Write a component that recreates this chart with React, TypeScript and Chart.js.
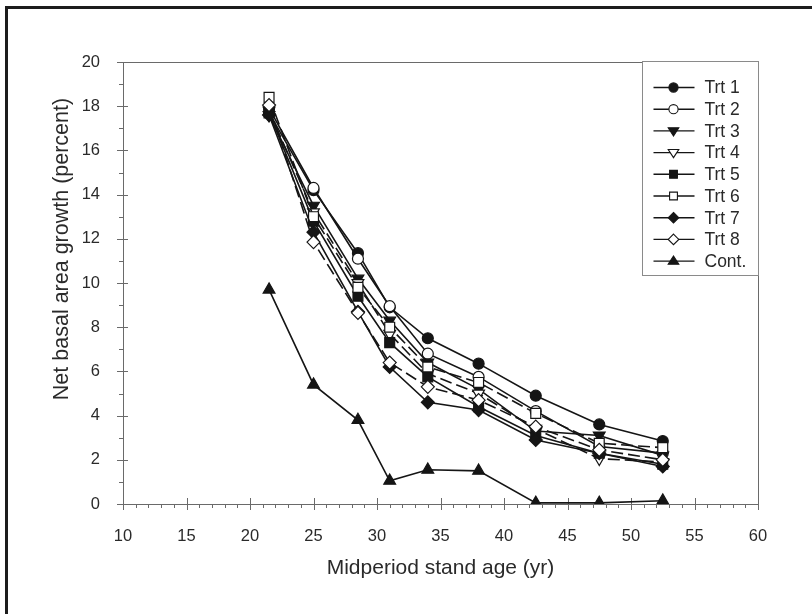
import React, { useEffect, useRef } from 'react';
import { Chart, registerables } from 'chart.js';

Chart.register(...registerables);

// ---- Data ----
const ages = [21.5, 25, 28.5, 31, 34, 38, 42.5, 47.5, 52.5];
const trt1 = [17.7, 14.2, 11.35, 8.9, 7.5, 6.35, 4.9, 3.6, 2.85];
const trt2 = [17.9, 14.3, 11.1, 8.95, 6.8, 5.75, 4.2, 2.6, 2.3];
const trt3 = [17.6, 13.5, 10.2, 8.3, 6.4, 5.2, 3.3, 3.1, 2.2];
const trt4 = [17.8, 13.2, 10.0, 7.7, 5.9, 5.0, 3.4, 2.05, 1.9];
const trt5 = [17.7, 12.8, 9.4, 7.3, 5.75, 4.4, 3.1, 2.3, 1.8];
const trt6 = [18.4, 13.0, 9.8, 8.0, 6.2, 5.5, 4.1, 2.75, 2.55];
const trt7 = [17.6, 12.3, 8.7, 6.2, 4.6, 4.25, 2.9, 2.3, 1.7];
const trt8 = [18.05, 11.85, 8.65, 6.4, 5.3, 4.7, 3.5, 2.45, 2.0];
const cont = [9.7, 5.4, 3.8, 1.05, 1.55, 1.5, 0.05, 0.05, 0.15];

const seriesNames = ['Trt 1', 'Trt 2', 'Trt 3', 'Trt 4', 'Trt 5', 'Trt 6', 'Trt 7', 'Trt 8', 'Cont.'];
const seriesValues = [trt1, trt2, trt3, trt4, trt5, trt6, trt7, trt8, cont];

const xMin = 10, xMax = 60, xStep = 5, xMinorStep = 1;
const yMin = 0, yMax = 20, yStep = 2, yMinorStep = 1;

const xTitle = 'Midperiod stand age (yr)';
const yTitle = 'Net basal area growth (percent)';

// ---- Styles ----
type MarkerKind = 'circle' | 'triDown' | 'triUp' | 'square' | 'diamond';
const markers: { kind: MarkerKind; filled: boolean; dash: number[] }[] = [
  { kind: 'circle', filled: true, dash: [] },
  { kind: 'circle', filled: false, dash: [] },
  { kind: 'triDown', filled: true, dash: [] },
  { kind: 'triDown', filled: false, dash: [12, 5] },
  { kind: 'square', filled: true, dash: [] },
  { kind: 'square', filled: false, dash: [12, 5] },
  { kind: 'diamond', filled: true, dash: [] },
  { kind: 'diamond', filled: false, dash: [12, 5] },
  { kind: 'triUp', filled: true, dash: [] },
];

const INK = '#151515';
const AXIS = '#6a6a6a';
const TEXT = '#2a2a2a';
const FONT = "'Liberation Sans', Arial, sans-serif";

function chartStyle(kind: MarkerKind) {
  switch (kind) {
    case 'circle': return { pointStyle: 'circle', radius: 5.5, rotation: 0 };
    case 'triDown': return { pointStyle: 'triangle', radius: 6.8, rotation: 180 };
    case 'triUp': return { pointStyle: 'triangle', radius: 6.8, rotation: 0 };
    case 'square': return { pointStyle: 'rect', radius: 7, rotation: 0 };
    case 'diamond': return { pointStyle: 'rectRot', radius: 6.5, rotation: 0 };
  }
}

function drawMarker(ctx: CanvasRenderingContext2D, kind: MarkerKind, x: number, y: number, r: number, filled: boolean) {
  ctx.save();
  ctx.beginPath();
  if (kind === 'circle') {
    ctx.arc(x, y, r, 0, Math.PI * 2);
  } else if (kind === 'square') {
    const s = r * 0.85;
    ctx.rect(x - s, y - s, 2 * s, 2 * s);
  } else if (kind === 'diamond') {
    const d = r * 1.15;
    ctx.moveTo(x, y - d); ctx.lineTo(x + d, y); ctx.lineTo(x, y + d); ctx.lineTo(x - d, y); ctx.closePath();
  } else {
    const d = r * 1.15;
    const s = kind === 'triDown' ? 1 : -1;
    ctx.moveTo(x - d, y - s * d * 0.6);
    ctx.lineTo(x + d, y - s * d * 0.6);
    ctx.lineTo(x, y + s * d * 0.95);
    ctx.closePath();
  }
  ctx.fillStyle = filled ? INK : '#ffffff';
  ctx.fill();
  ctx.lineWidth = 1.1;
  ctx.strokeStyle = INK;
  ctx.stroke();
  ctx.restore();
}

const framePlugin = {
  id: 'frameTicks',
  beforeDraw(chart: any) {
    const ctx = chart.ctx as CanvasRenderingContext2D;
    ctx.save();
    // outer figure border (left & top)
    ctx.fillStyle = '#1c1c1c';
    ctx.fillRect(5, 6, 3, chart.height);
    ctx.fillRect(5, 6, chart.width, 3);
    ctx.restore();
  },
  beforeDatasetsDraw(chart: any) {
    const ctx = chart.ctx as CanvasRenderingContext2D;
    const { left, right, top, bottom } = chart.chartArea;
    const xs = chart.scales.x, ys = chart.scales.y;
    ctx.save();
    ctx.strokeStyle = AXIS;
    ctx.lineWidth = 1;
    ctx.strokeRect(Math.round(left) + 0.5, Math.round(top) + 0.5, Math.round(right - left), Math.round(bottom - top));
    ctx.beginPath();
    for (let v = xMin; v <= xMax + 1e-9; v += xMinorStep) {
      const px = Math.round(xs.getPixelForValue(v)) + 0.5;
      const major = Math.abs((v - xMin) % xStep) < 1e-9;
      if (major) { ctx.moveTo(px, bottom - 6); ctx.lineTo(px, bottom + 6); }
      else { ctx.moveTo(px, bottom); ctx.lineTo(px, bottom + 4); }
    }
    for (let v = yMin; v <= yMax + 1e-9; v += yMinorStep) {
      const py = Math.round(ys.getPixelForValue(v)) + 0.5;
      const major = Math.abs((v - yMin) % yStep) < 1e-9;
      if (major) { ctx.moveTo(left - 6, py); ctx.lineTo(left + 5, py); }
      else { ctx.moveTo(left - 4, py); ctx.lineTo(left, py); }
    }
    ctx.stroke();

    // y-axis title (sits a little above the plot's vertical centre, as in the original)
    ctx.save();
    ctx.translate(62, (top + bottom) / 2 - 34);
    ctx.rotate(-Math.PI / 2);
    ctx.font = `21.5px ${FONT}`;
    ctx.fillStyle = TEXT;
    ctx.textAlign = 'center';
    ctx.textBaseline = 'middle';
    ctx.fillText(yTitle, 0, 0);
    ctx.restore();
    ctx.restore();
  },
  afterDraw(chart: any) {
    const ctx = chart.ctx as CanvasRenderingContext2D;
    const { right, top } = chart.chartArea;
    const boxW = 116, boxH = 214;
    const bx = Math.round(right - boxW) + 0.5, by = Math.round(top) - 0.5;
    ctx.save();
    ctx.fillStyle = '#ffffff';
    ctx.fillRect(bx, by, boxW, boxH);
    ctx.strokeStyle = '#8a8a8a';
    ctx.lineWidth = 1;
    ctx.strokeRect(bx, by, boxW, boxH);
    ctx.font = `17.5px ${FONT}`;
    ctx.textBaseline = 'middle';
    ctx.textAlign = 'left';
    seriesNames.forEach((name, i) => {
      const y = by + 26 + i * 21.7;
      const m = markers[i];
      ctx.strokeStyle = INK;
      ctx.lineWidth = 1.4;
      ctx.beginPath();
      ctx.moveTo(bx + 11, y); ctx.lineTo(bx + 52, y);
      ctx.stroke();
      drawMarker(ctx, m.kind, bx + 31, y, 4.6, m.filled);
      ctx.fillStyle = TEXT;
      ctx.fillText(name, bx + 62, y + 1);
    });
    ctx.restore();
  },
};

export default function App() {
  const ref = useRef<HTMLCanvasElement | null>(null);

  useEffect(() => {
    if (!ref.current) return;
    const datasets = seriesValues.map((vals, i) => {
      const m = markers[i];
      const st = chartStyle(m.kind)!;
      return {
        label: seriesNames[i],
        data: ages.map((a, j) => ({ x: a, y: vals[j] })),
        borderColor: INK,
        borderWidth: 1.6,
        borderDash: m.dash,
        backgroundColor: m.filled ? INK : '#ffffff',
        pointBackgroundColor: m.filled ? INK : '#ffffff',
        pointBorderColor: INK,
        pointBorderWidth: 1.2,
        pointStyle: st.pointStyle,
        pointRadius: st.radius,
        pointRotation: st.rotation,
        tension: 0,
        fill: false,
        order: 9 - i,
      };
    });

    const chart = new Chart(ref.current, {
      type: 'line',
      data: { datasets: datasets as any },
      plugins: [framePlugin],
      options: {
        responsive: false,
        animation: false,
        events: [],
        layout: { padding: { top: 62, right: 54, left: 0, bottom: 0 } },
        plugins: { legend: { display: false }, tooltip: { enabled: false } },
        scales: {
          x: {
            type: 'linear',
            min: xMin,
            max: xMax,
            grid: { display: false },
            border: { display: false },
            ticks: { stepSize: xStep, padding: 15, color: TEXT, font: { family: FONT, size: 16.5 }, maxRotation: 0 },
            title: { display: true, text: xTitle, color: TEXT, font: { family: FONT, size: 21 }, padding: { top: 0, bottom: 33 } },
            afterFit: (s: any) => { s.height = 110; },
          },
          y: {
            type: 'linear',
            min: yMin,
            max: yMax,
            grid: { display: false },
            border: { display: false },
            ticks: { stepSize: yStep, padding: 15, color: TEXT, font: { family: FONT, size: 16.5 } },
            title: { display: false, text: yTitle },
            afterFit: (s: any) => { s.width = 123; },
          },
        },
      },
    });
    return () => chart.destroy();
  }, []);

  return (
    <div style={{ position: 'fixed', left: 0, top: 0, width: 812, height: 614, background: '#ffffff' }}>
      <canvas ref={ref} width={812} height={614} style={{ display: 'block' }} />
    </div>
  );
}
